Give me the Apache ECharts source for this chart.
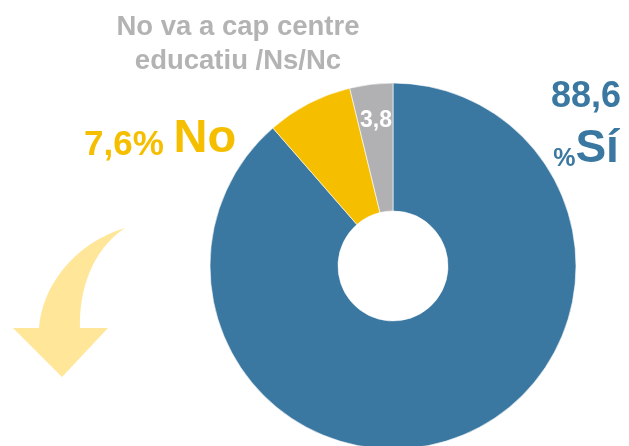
<!DOCTYPE html>
<html><head><meta charset="utf-8">
<script src="https://cdn.jsdelivr.net/npm/echarts@6/dist/echarts.min.js"></script>
<style>html,body{margin:0;padding:0;background:#fff}#c{width:629px;height:446px}</style>
</head><body><div id="c"></div>
<script>
const categories = ['Sí', 'No', 'No va a cap centre educatiu /Ns/Nc'];
const values = [88.6, 7.6, 3.8];
const colors = ['#3A77A1', '#F5BF00', '#B1B1B3'];
const titleLines = ['No va a cap centre', 'educatiu /Ns/Nc'];

const fmt = v => String(v).replace('.', ',');
const font = '"Liberation Sans", Arial, sans-serif';

echarts.graphic.registerShape('curvedArrow', echarts.graphic.extendPath(
  'M125,228 C72,244 42,288 39,328 L13,328 L62,377 L108,328 L80,328 C79,290 92,250 125,228 Z', {}));

const labelFormats = [
  p => '{num|' + fmt(p.value) + '}\n{pct|%}{big|' + p.name + '}',
  p => '{pct|' + fmt(p.value) + '% }{big|' + p.name + '}',
  p => '{val|' + fmt(p.value) + '}'
];
const labelPos = [
  {x: 586, y: 72, align: 'center', verticalAlign: 'top'},
  {x: 84, y: 139, align: 'left', verticalAlign: 'middle'},
  {x: 376, y: 121, align: 'center', verticalAlign: 'middle'}
];
const richByIndex = [
  {
    num: {fontSize: 36, lineHeight: 50},
    pct: {fontSize: 25, lineHeight: 38, verticalAlign: 'bottom'},
    big: {fontSize: 46, lineHeight: 50, verticalAlign: 'bottom'}
  },
  {
    pct: {fontSize: 35, lineHeight: 40, verticalAlign: 'bottom'},
    big: {fontSize: 47, lineHeight: 47, verticalAlign: 'bottom'}
  },
  {
    val: {fontSize: 23}
  }
];

const chart = echarts.init(document.getElementById('c'));
chart.setOption({
  animation: false,
  title: {
    text: titleLines.join('\n'),
    left: 238, top: 10, textAlign: 'center', padding: 0,
    textStyle: {color: '#B3B3B3', fontSize: 27.5, fontWeight: 'bold', fontFamily: font, lineHeight: 34}
  },
  graphic: [{
    type: 'curvedArrow',
    shape: {},
    style: {fill: '#FFE699'}
  }],
  series: [{
    type: 'pie',
    center: [393, 266],
    radius: [55, 183],
    startAngle: 90,
    clockwise: true,
    itemStyle: {borderColor: '#ffffff', borderWidth: 0.6},
    emphasis: {disabled: true},
    labelLine: {show: false},
    data: categories.map((n, i) => {
      const rich = {};
      Object.keys(richByIndex[i]).forEach(k => {
        rich[k] = Object.assign({fontWeight: 'bold', fontFamily: font, color: i === 2 ? '#ffffff' : colors[i]}, richByIndex[i][k]);
      });
      return {
        name: n, value: values[i],
        itemStyle: {color: colors[i]},
        label: {
          show: true,
          position: i === 2 ? 'inside' : 'outside',
          formatter: labelFormats[i],
          fontFamily: font,
          fontWeight: 'bold',
          rich: rich
        }
      };
    }),
    labelLayout: p => labelPos[p.dataIndex]
  }]
});
</script></body></html>
